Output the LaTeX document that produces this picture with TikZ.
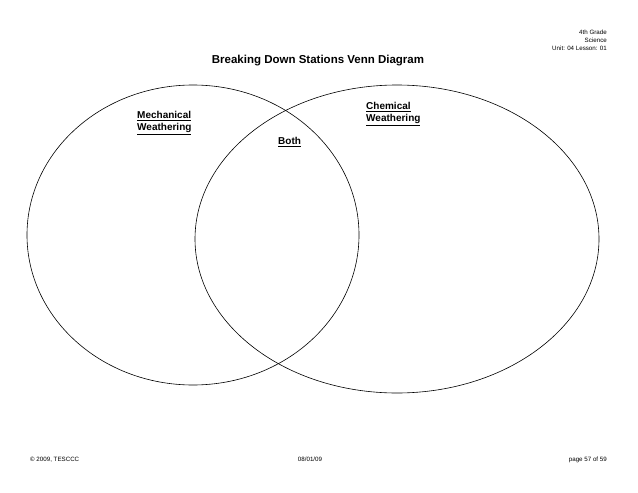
\documentclass[tikz,border=0pt]{standalone}
\usepackage{fontspec}
\setmainfont{Liberation Sans}
\begin{document}
\begin{tikzpicture}[x=1pt,y=-1pt]
\tikzset{lbl/.style={font=\fontsize{10}{12.5}\selectfont\bfseries, align=left, inner sep=0pt},
  tiny/.style={font=\fontsize{6.2}{7.8}\selectfont, inner sep=0pt}}
\useasboundingbox (0,0) rectangle (638,493);

%Shape: Ellipse left
\draw[line width=0.6pt] (193,235) ellipse [x radius=166, y radius=150];
%Shape: Ellipse right
\draw[line width=0.6pt] (397,239) ellipse [x radius=202, y radius=154];

% Text Node
\node[tiny, anchor=north east, align=right] (hdr) at (607,30) {4th Grade\\Science\\Unit: 04 Lesson: 01};
% Text Node
\node[font=\fontsize{11.5}{13}\selectfont\bfseries] (title) at (318,61) {Breaking Down Stations Venn  Diagram};
% Text Node
\node[lbl, anchor=north west] (mech) at (137,111) {\underline{Mechanical}\\\underline{Weathering}};
% Text Node
\node[lbl, anchor=north west] (chem) at (366,102) {\underline{Chemical}\\\underline{Weathering}};
% Text Node
\node[lbl, anchor=north west] (both) at (278,137) {\underline{Both}};
% Text Node
\node[tiny, anchor=base west] (copy) at (30,461) {© 2009, TESCCC};
% Text Node
\node[tiny, anchor=base] (date) at (310,461) {08/01/09};
% Text Node
\node[tiny, anchor=base east] (page) at (607,461) {page 57 of 59};
\end{tikzpicture}
\end{document}
